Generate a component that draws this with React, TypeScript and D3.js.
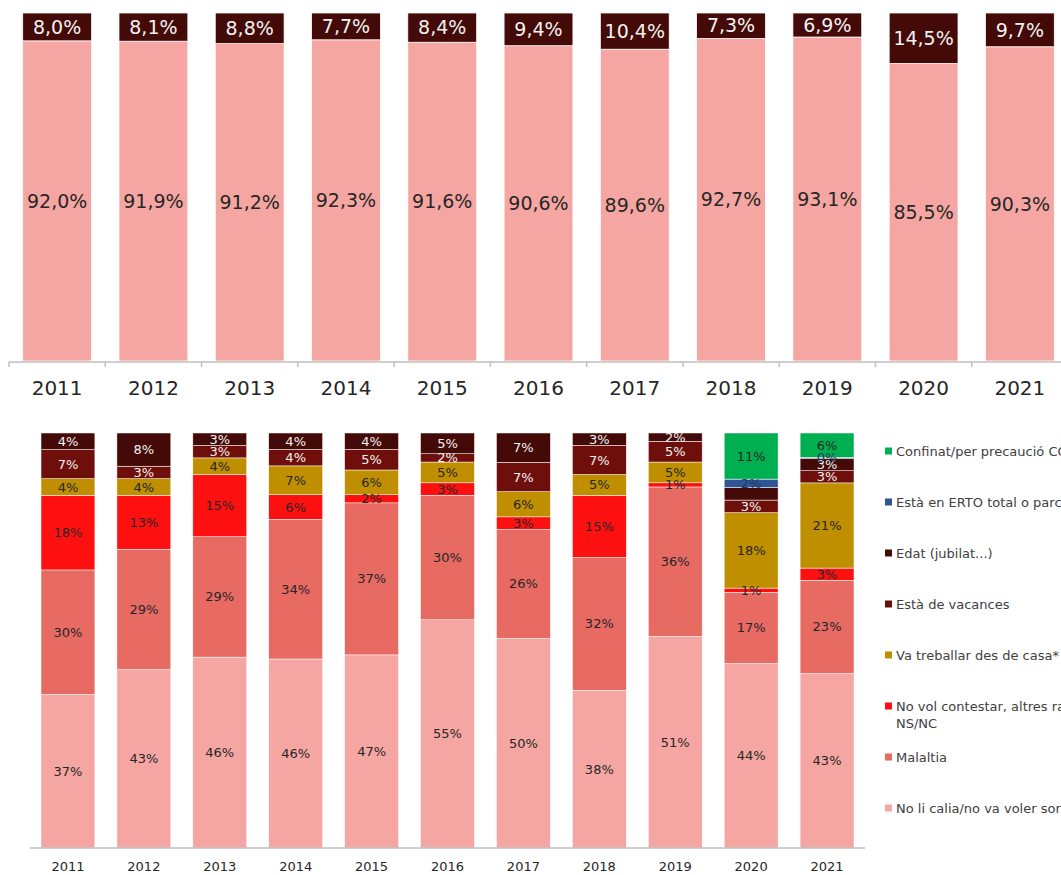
import * as d3 from "d3";

const years = ["2011", "2012", "2013", "2014", "2015", "2016", "2017", "2018", "2019", "2020", "2021"];

// top chart: share of the population, two series
const topLight = [92.0, 91.9, 91.2, 92.3, 91.6, 90.6, 89.6, 92.7, 93.1, 85.5, 90.3];
const topDark = [8.0, 8.1, 8.8, 7.7, 8.4, 9.4, 10.4, 7.3, 6.9, 14.5, 9.7];

// bottom chart: reasons, stacked bottom -> top
const noCalia = [37, 43, 46, 46, 47, 55, 50, 38, 51, 44, 43];
const malaltia = [30, 29, 29, 34, 37, 30, 26, 32, 36, 17, 23];
const noVol = [18, 13, 15, 6, 2, 3, 3, 15, 1, 1, 3];
const casa = [4, 4, 4, 7, 6, 5, 6, 5, 5, 18, 21];
const vacances = [7, 3, 3, 4, 5, 2, 7, 7, 5, 3, 3];
const edat = [4, 8, 3, 4, 4, 5, 7, 3, 2, 3, 3];
const erto = [null, null, null, null, null, null, null, null, null, 2, 0.3];
const confinat = [null, null, null, null, null, null, null, null, null, 11, 6];

const series = [
  { name: "No li calia/no va voler sortir", values: noCalia, color: "#f5a6a2", text: "#262626" },
  { name: "Malaltia", values: malaltia, color: "#e76a63", text: "#262626" },
  { name: "No vol contestar, altres raons,|NS/NC", values: noVol, color: "#ff1010", text: "#262626" },
  { name: "Va treballar des de casa*", values: casa, color: "#bf8f00", text: "#262626" },
  { name: "Està de vacances", values: vacances, color: "#6e0f0b", text: "#f2f2f2" },
  { name: "Edat (jubilat...)", values: edat, color: "#430a07", text: "#f2f2f2" },
  { name: "Està en ERTO total o parcial", values: erto, color: "#2f5597", text: "#203864" },
  { name: "Confinat/per precaució COVID-19", values: confinat, color: "#00b050", text: "#262626" },
];
const hiddenLabels = ["Edat (jubilat...)|2020"];

const FONT = "'Century Gothic', 'DejaVu Sans', sans-serif";
const comma = (v: number) => d3.format(".1f")(v).replace(".", ",") + "%";

export default function App() {
  // top chart
  const xTop = d3.scaleBand<string>().domain(years).range([9, 1068]).paddingInner(0.285).paddingOuter(0.1425);
  const yTop = d3.scaleLinear().domain([0, 100]).range([361, 13]);

  // bottom chart
  const xBot = d3.scaleBand<string>().domain(years).range([30, 865]).paddingInner(0.29).paddingOuter(0.145);
  const yBot = d3.scaleLinear().domain([0, 100]).range([848, 433]);

  const totals = years.map((_, i) => d3.sum(series, s => s.values[i] ?? 0));
  const cells: any[] = [];
  years.forEach((yr, i) => {
    let acc = 0;
    series.forEach(s => {
      const v = s.values[i];
      if (v === null || v === undefined) return;
      const p = (v / totals[i]) * 100;
      cells.push({ yr, s, v, y0: acc, y1: acc + p, label: !hiddenLabels.includes(s.name + "|" + yr) });
      acc += p;
    });
  });

  const legend = [...series].reverse();

  return (
    <svg width={1061} height={875} style={{ position: "absolute", left: 0, top: 0, fontFamily: FONT }}>
      <rect width={1061} height={875} fill="#fff" />
      {/* top chart */}
      {years.map((yr, i) => (
        <g key={"t" + yr}>
          <rect x={xTop(yr)} width={xTop.bandwidth()} y={yTop(topLight[i])} height={yTop(0) - yTop(topLight[i])}
            fill="#f5a6a2" stroke="#fff" strokeWidth={0.75} />
          <rect x={xTop(yr)} width={xTop.bandwidth()} y={yTop(100)} height={yTop(0) - yTop(topDark[i])}
            fill="#430a07" stroke="#fff" strokeWidth={0.75} />
          <text x={xTop(yr)! + xTop.bandwidth() / 2} y={(yTop(topLight[i]) + yTop(0)) / 2} dy="0.35em"
            textAnchor="middle" fontSize={19} fill="#262626">{comma(topLight[i])}</text>
          <text x={xTop(yr)! + xTop.bandwidth() / 2} y={(yTop(100) + yTop(topLight[i])) / 2} dy="0.35em"
            textAnchor="middle" fontSize={19} fill="#f2f2f2">{comma(topDark[i])}</text>
          <text x={xTop(yr)! + xTop.bandwidth() / 2} y={388} dy="0.35em" textAnchor="middle" fontSize={20} fill="#262626">{yr}</text>
        </g>
      ))}
      <line x1={9} x2={1068} y1={362} y2={362} stroke="#bfbfbf" strokeWidth={1.5} />
      {years.map((yr, i) => (
        <line key={"tk" + yr} x1={9 + i * xTop.step()} x2={9 + i * xTop.step()} y1={362} y2={367} stroke="#bfbfbf" strokeWidth={1.5} />
      ))}

      {/* bottom chart */}
      {cells.map((c, k) => (
        <rect key={"b" + k} x={xBot(c.yr)} width={xBot.bandwidth()} y={yBot(c.y1)} height={yBot(c.y0) - yBot(c.y1)}
          fill={c.s.color} stroke="#fff" strokeWidth={0.5} />
      ))}
      {cells.filter(c => c.label).map((c, k) => (
        <text key={"bl" + k} x={xBot(c.yr)! + xBot.bandwidth() / 2} y={yBot((c.y0 + c.y1) / 2)} dy="0.35em"
          textAnchor="middle" fontSize={13} fill={c.s.text}>{d3.format(".0f")(c.v)}%</text>
      ))}
      <line x1={30} x2={865} y1={848} y2={848} stroke="#bfbfbf" strokeWidth={1.5} />
      {years.map(yr => (
        <text key={"by" + yr} x={xBot(yr)! + xBot.bandwidth() / 2} y={866} dy="0.35em" textAnchor="middle" fontSize={13} fill="#262626">{yr}</text>
      ))}

      {/* legend */}
      {legend.map((s, i) => {
        const y = 451 + i * 51;
        const lines = s.name.split("|");
        return (
          <g key={"lg" + i}>
            <rect x={885} y={y - 3.5} width={7} height={7} fill={s.color} />
            {lines.map((ln, j) => (
              <text key={j} x={896} y={y + j * 17} dy="0.35em" fontSize={13} fill="#404040">{ln}</text>
            ))}
          </g>
        );
      })}
    </svg>
  );
}
